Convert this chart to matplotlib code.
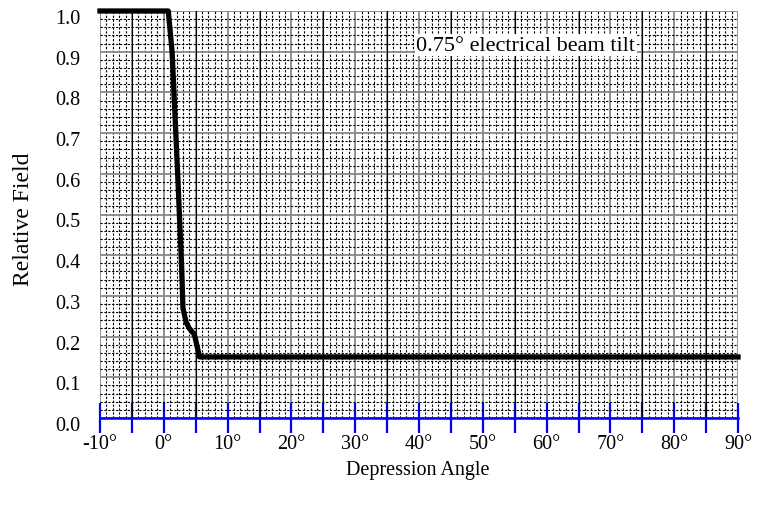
import matplotlib
matplotlib.use("Agg")
import matplotlib.pyplot as plt
import matplotlib.transforms as mtransforms
import numpy as np

# Data
angle = [-10, 0.7, 1.3, 2.2, 2.8, 3.0, 3.5, 4.0, 4.8, 5.6, 90]
field = [1.0, 1.0, 0.90, 0.59, 0.37, 0.27, 0.235, 0.22, 0.205, 0.15, 0.15]
x_ticks = [-10, 0, 10, 20, 30, 40, 50, 60, 70, 80, 90]
x_tick_labels = ["-10°", "0°", "10°", "20°", "30°", "40°", "50°", "60°", "70°", "80°", "90°"]
y_ticks = [0.0, 0.1, 0.2, 0.3, 0.4, 0.5, 0.6, 0.7, 0.8, 0.9, 1.0]
y_tick_labels = ["0.0", "0.1", "0.2", "0.3", "0.4", "0.5", "0.6", "0.7", "0.8", "0.9", "1.0"]
annotation = "0.75° electrical beam tilt"

plt.rcParams['font.family'] = ['Liberation Serif', 'DejaVu Serif']

fig = plt.figure(figsize=(7.59, 5.06), dpi=100)
ax = fig.add_axes([100/759, 1 - 419/506, 638/759, 407/506])
ax.set_xlim(-10, 90)
ax.set_ylim(0, 1.0)

# Minor grid (dotted)
ax.set_xticks(np.arange(-10, 91, 1), minor=True)
ax.set_yticks(np.arange(0, 1.001, 0.02), minor=True)
ax.grid(which='minor', color='black', lw=0.8, linestyle=(0, (2, 1.5)), zorder=1)

# Major ticks every 5 deg (labels on multiples of 10)
major_x = np.arange(-10, 91, 5)
ax.set_xticks(major_x)
lab = []
for v in major_x:
    lab.append(x_tick_labels[x_ticks.index(v)] if v in x_ticks else "")
ax.set_xticklabels(lab)
ax.set_yticks(y_ticks)
ax.set_yticklabels(y_tick_labels)
ax.grid(which='major', axis='both', color='#888888', lw=1.3, linestyle='-', zorder=1.5)
for v in major_x:
    if v % 10 != 0:
        ax.axvline(v, color='black', lw=0.8, zorder=1.6)

ax.set_axisbelow(True)

ax.plot(angle, field, color='black', lw=3.8, solid_joinstyle='round', zorder=5, clip_on=False)

ax.text(39.6, 0.916, annotation, fontsize=16, va='center', ha='left', zorder=4,
        bbox=dict(facecolor='white', edgecolor='none', pad=1.0))

for s in ['top', 'left', 'right']:
    ax.spines[s].set_visible(False)
ax.spines['bottom'].set_color('blue')
ax.spines['bottom'].set_linewidth(1.8)
ax.spines['bottom'].set_zorder(6)

ax.tick_params(axis='x', which='major', direction='inout', length=21, width=1.6,
               color='blue', labelsize=14.5, pad=1)
ax.tick_params(axis='x', which='minor', length=0)
ax.tick_params(axis='y', which='both', length=0, labelsize=14.5, pad=14)
offset = mtransforms.ScaledTranslation(0, -5/100, fig.dpi_scale_trans)
for t in ax.get_yticklabels():
    t.set_horizontalalignment('right')
    t.set_transform(t.get_transform() + offset)

ax.set_ylabel("Relative Field", fontsize=17)
ax.yaxis.set_label_coords((34 - 100) / 638, 0.49)
ax.set_xlabel("Depression Angle", fontsize=14.5)
ax.xaxis.set_label_coords(0.498, (419 - 461) / 407)

fig.savefig("out.png", dpi=100)
